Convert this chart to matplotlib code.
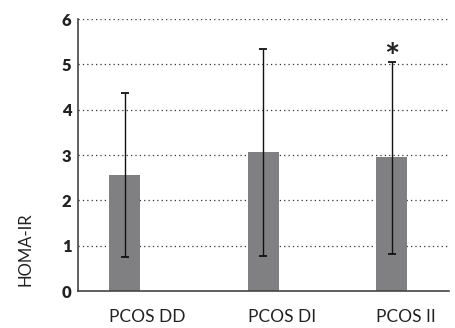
import matplotlib.pyplot as plt

# --- data ---
groups = ["PCOS DD", "PCOS DI", "PCOS II"]
homa_mean = [2.55, 3.07, 2.95]
err_low = [0.76, 0.78, 0.81]
err_high = [4.37, 5.33, 5.06]
yticks = [0, 1, 2, 3, 4, 5, 6]

plt.rcParams['font.family'] = ['Lato', 'DejaVu Sans']

fig = plt.figure(figsize=(4.55, 3.28), dpi=100)
ax = fig.add_axes([0.1725, 0.1128, 0.8143, 0.8292])

xpos = [0, 1.04, 2]
bar_w = 0.232
lo = [m - l for m, l in zip(homa_mean, err_low)]
hi = [h - m for m, h in zip(homa_mean, err_high)]

ax.bar(xpos, homa_mean, width=bar_w, color='#808083', zorder=2)
ax.errorbar(xpos, homa_mean, yerr=[lo, hi], fmt='none', ecolor='#111111',
            elinewidth=1.0, capsize=3, capthick=1.3, zorder=3)

# dotted gridlines
for y in yticks[1:]:
    ax.axhline(y, color='#333333', linestyle=(0, (1, 2.5)), linewidth=0.9, zorder=1)

ax.set_xlim(-0.345, 2.43)
ax.set_ylim(0, 6)
ax.set_yticks(yticks)
ax.set_yticklabels([str(t) for t in yticks], fontweight='heavy', fontsize=12, color='#222222')
ax.tick_params(axis='y', length=0, pad=5)

ax.set_xticks([])
for x, g in zip(xpos, groups):
    ax.text(x - bar_w / 2, -0.4, g, ha='left', va='top', fontsize=12.5, color='#222222')

for s in ['top', 'right']:
    ax.spines[s].set_visible(False)
ax.spines['left'].set_color('#444444')
ax.spines['bottom'].set_color('#444444')
ax.spines['left'].set_linewidth(1.2)
ax.spines['bottom'].set_linewidth(1.2)

# significance marker
ax.text(xpos[2], err_high[2] - 0.3, "*", ha='center', va='bottom',
        fontsize=26, fontweight='bold', color='#222222')

fig.text(25 / 455, 1 - 249 / 328, "HOMA-IR", rotation=90, ha='center', va='center',
         fontsize=12, color='#222222')

fig.savefig("out.png", dpi=100)
